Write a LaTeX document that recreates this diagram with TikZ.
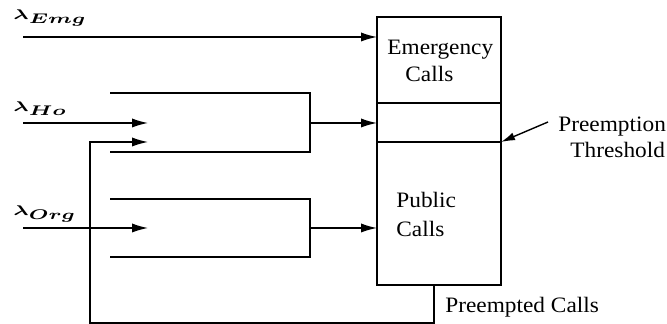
\documentclass[tikz,border=0pt]{standalone}
\usepackage{amsmath,bm,graphicx}
\usepackage{fontspec}
\setmainfont{Liberation Serif}
\newfontfamily\lblfont[FakeStretch=1.06]{Liberation Serif}
\usetikzlibrary{arrows.meta}
\newcommand{\lamlbl}[1]{\scalebox{1.45}[1]{$\bm{\lambda}\raisebox{-2pt}{$\bm{#1}$}$}}
\begin{document}
\begin{tikzpicture}[x=0.5pt,y=-0.5pt,
  ln/.style={line width=0.7pt},
  arr/.style={ln,-{Latex[length=8pt,width=4.6pt]}},
  part/.style={draw,ln,anchor=north west,minimum width=62pt,inner sep=0pt,outer sep=0pt},
  txt/.style={inner sep=0pt,anchor=base west,font=\lblfont\fontsize{11}{13}\selectfont},
  lam/.style={inner sep=0pt,anchor=base west,font=\fontsize{7.2}{9}\selectfont}]
\useasboundingbox (0,0) rectangle (667,324);
% big box parts
\node[part,minimum height=43pt] (emg) at (377,17) {};
\node[part,minimum height=19.5pt] (mid) at (377,103) {};
\node[part,minimum height=71.5pt] (pub) at (377,142) {};
% texts in box
\node[txt] (t1) at (387,55) {Emergency};
\node[txt] (t2) at (405,82) {Calls};
\node[txt] (t3) at (396,208) {Public};
\node[txt] (t4) at (396,237) {Calls};
% labels
\node[lam] (lE) at (13,20) {\lamlbl{Emg}};
\node[lam] (lH) at (13,112) {\lamlbl{Ho}};
\node[lam] (lO) at (13,216) {\lamlbl{Org}};
% coordinates
\coordinate (eS) at (23,37);
\coordinate (hS) at (23,123);
\coordinate (hE) at (148,123);
\coordinate (rE) at (148,142);
\coordinate (oS) at (23,228);
\coordinate (oE) at (148,228);
\coordinate (hq1) at (110,93);
\coordinate (hq2) at (310,93);
\coordinate (hq3) at (310,152);
\coordinate (hq4) at (110,152);
\coordinate (oq1) at (110,199);
\coordinate (oq2) at (310,199);
\coordinate (oq3) at (310,257);
\coordinate (oq4) at (110,257);
\coordinate (hO) at (310,123);
\coordinate (oO) at (310,228);
\coordinate (pb) at (434,285);
\coordinate (pc) at (434,323);
\coordinate (pl) at (90,323);
\coordinate (pu) at (90,142);
% arrows
\draw[arr] (eS) -- (eS -| emg.west);
\draw[arr] (hS) -- (hE);
\draw[arr] (oS) -- (oE);
\draw[ln] (hq1) -- (hq2) -- (hq3) -- (hq4);
\draw[ln] (oq1) -- (oq2) -- (oq3) -- (oq4);
\draw[arr] (hO) -- (hO -| mid.west);
\draw[arr] (oO) -- (oO -| pub.west);
\draw[arr] (pb) -- (pc) -- (pl) -- (pu) -- (rE);
% threshold
\node[txt] (pt1) at (558,132) {Preemption};
\node[txt] (pt2) at (570,158) {Threshold};
\coordinate (ta) at (548,122);
\draw[ln,-{Latex[length=7pt,width=4pt]}] (ta) -- (pub.north east);
\node[txt] (pcl) at (445,313) {Preempted Calls};
\end{tikzpicture}
\end{document}
